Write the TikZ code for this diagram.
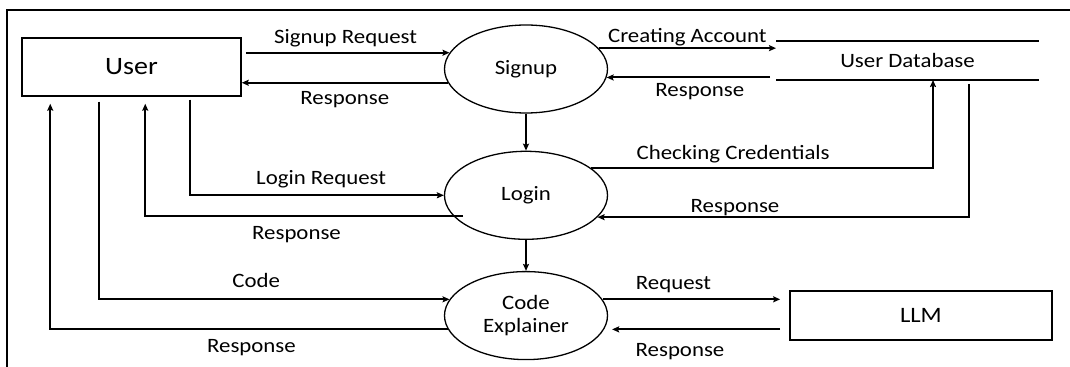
\documentclass[tikz,border=0pt]{standalone}
\usepackage{fontspec}
\setmainfont{Carlito}[FakeStretch=1.12]
\usetikzlibrary{arrows.meta,shapes.geometric,positioning,calc}

\begin{document}
\begin{tikzpicture}[x=0.5pt,y=-0.5pt,->,>={Stealth[length=3.5pt,width=3pt,inset=0.6pt]},
  line width=1pt,font=\fontsize{10.2}{11.8}\selectfont,
  process node/.style={ellipse,draw,line width=0.65pt,minimum width=81.5pt,minimum height=44pt,inner sep=0pt,align=center},
  entity node/.style={rectangle,draw,line width=0.75pt,inner sep=0pt},
  store node/.style={rectangle,inner sep=0pt,minimum width=130.5pt,minimum height=18.5pt}]
\useasboundingbox (0,0) rectangle (1070,367);
\draw[-,line width=0.75pt] (7,367) -- (7,10) -- (1070,10);
%user
  \node[entity node,minimum width=109.5pt,minimum height=29pt,font=\fontsize{12.5}{14}\selectfont] (user) at (131.5,67) {User};
%processes
  \node[process node] (signup) at (526,69) {Signup};
  \node[process node] (login) [below=18.5pt of signup] {Login};
  \node[process node] (code) [below=15.5pt of login] {Code\\Explainer};
%store
  \node[store node] (db) at (907.5,60.5) {User Database};
  \draw[-,line width=0.65pt] (db.north west) -- (db.north east) (db.south west) -- (db.south east);
%llm
  \node[entity node,minimum width=131pt,minimum height=24.5pt,font=\fontsize{11}{13}\selectfont] (llm) [right=90.5pt of code] {LLM};
%paths
  \draw[shorten <=2pt] (user.east |- signup.168) -- node[above,inner sep=2.35pt] {Signup Request} (signup.168);
  \draw (signup.190) -- node[below,inner sep=4pt] {Response} (user.east |- signup.190);
  \draw (signup.16) -- node[above,inner sep=0.4pt] {Creating Account} (db.west |- signup.16);
  \draw[shorten <=3pt] (db.west |- signup.354) -- node[below,inner sep=2.35pt,pos=0.45] {Response} (signup.354);
  \draw (signup) -- (login);
  \draw (login.23) -| node[above,inner sep=1.85pt,pos=0.208] {Checking Credentials} ($(db.south)+(25.5,0)$);
  \draw ($(db.south)+(61.5,4)$) |- node[above,inner sep=0pt,pos=0.815] {Response} (login.343);
  \draw ($(user.south west)+(169,3)$) |- node[above,inner sep=3pt,pos=0.758] {Login Request} (login.west);
  \draw ($(login.center)+(-63,21)$) -| node[below,inner sep=4.5pt,pos=0.262] {Response} ($(user.south west)+(124,7)$);
  \draw (login) -- (code);
  \draw ($(user.south west)+(78,5)$) |- node[above,inner sep=5.5pt,pos=0.724] {Code} (code.168);
  \draw (code.190) -| node[below,inner sep=4.5pt,pos=0.247] {Response} ($(user.south west)+(29,7)$);
  \draw[shorten >=4.5pt] (code.12) -- node[above,inner sep=2.85pt,pos=0.38] {Request} (code.12 -| llm.west);
  \draw[shorten <=4.5pt,shorten >=4pt] (code.350 -| llm.west) -- node[below,inner sep=6.5pt,pos=0.59] {Response} (code.350);
\end{tikzpicture}
\end{document}
